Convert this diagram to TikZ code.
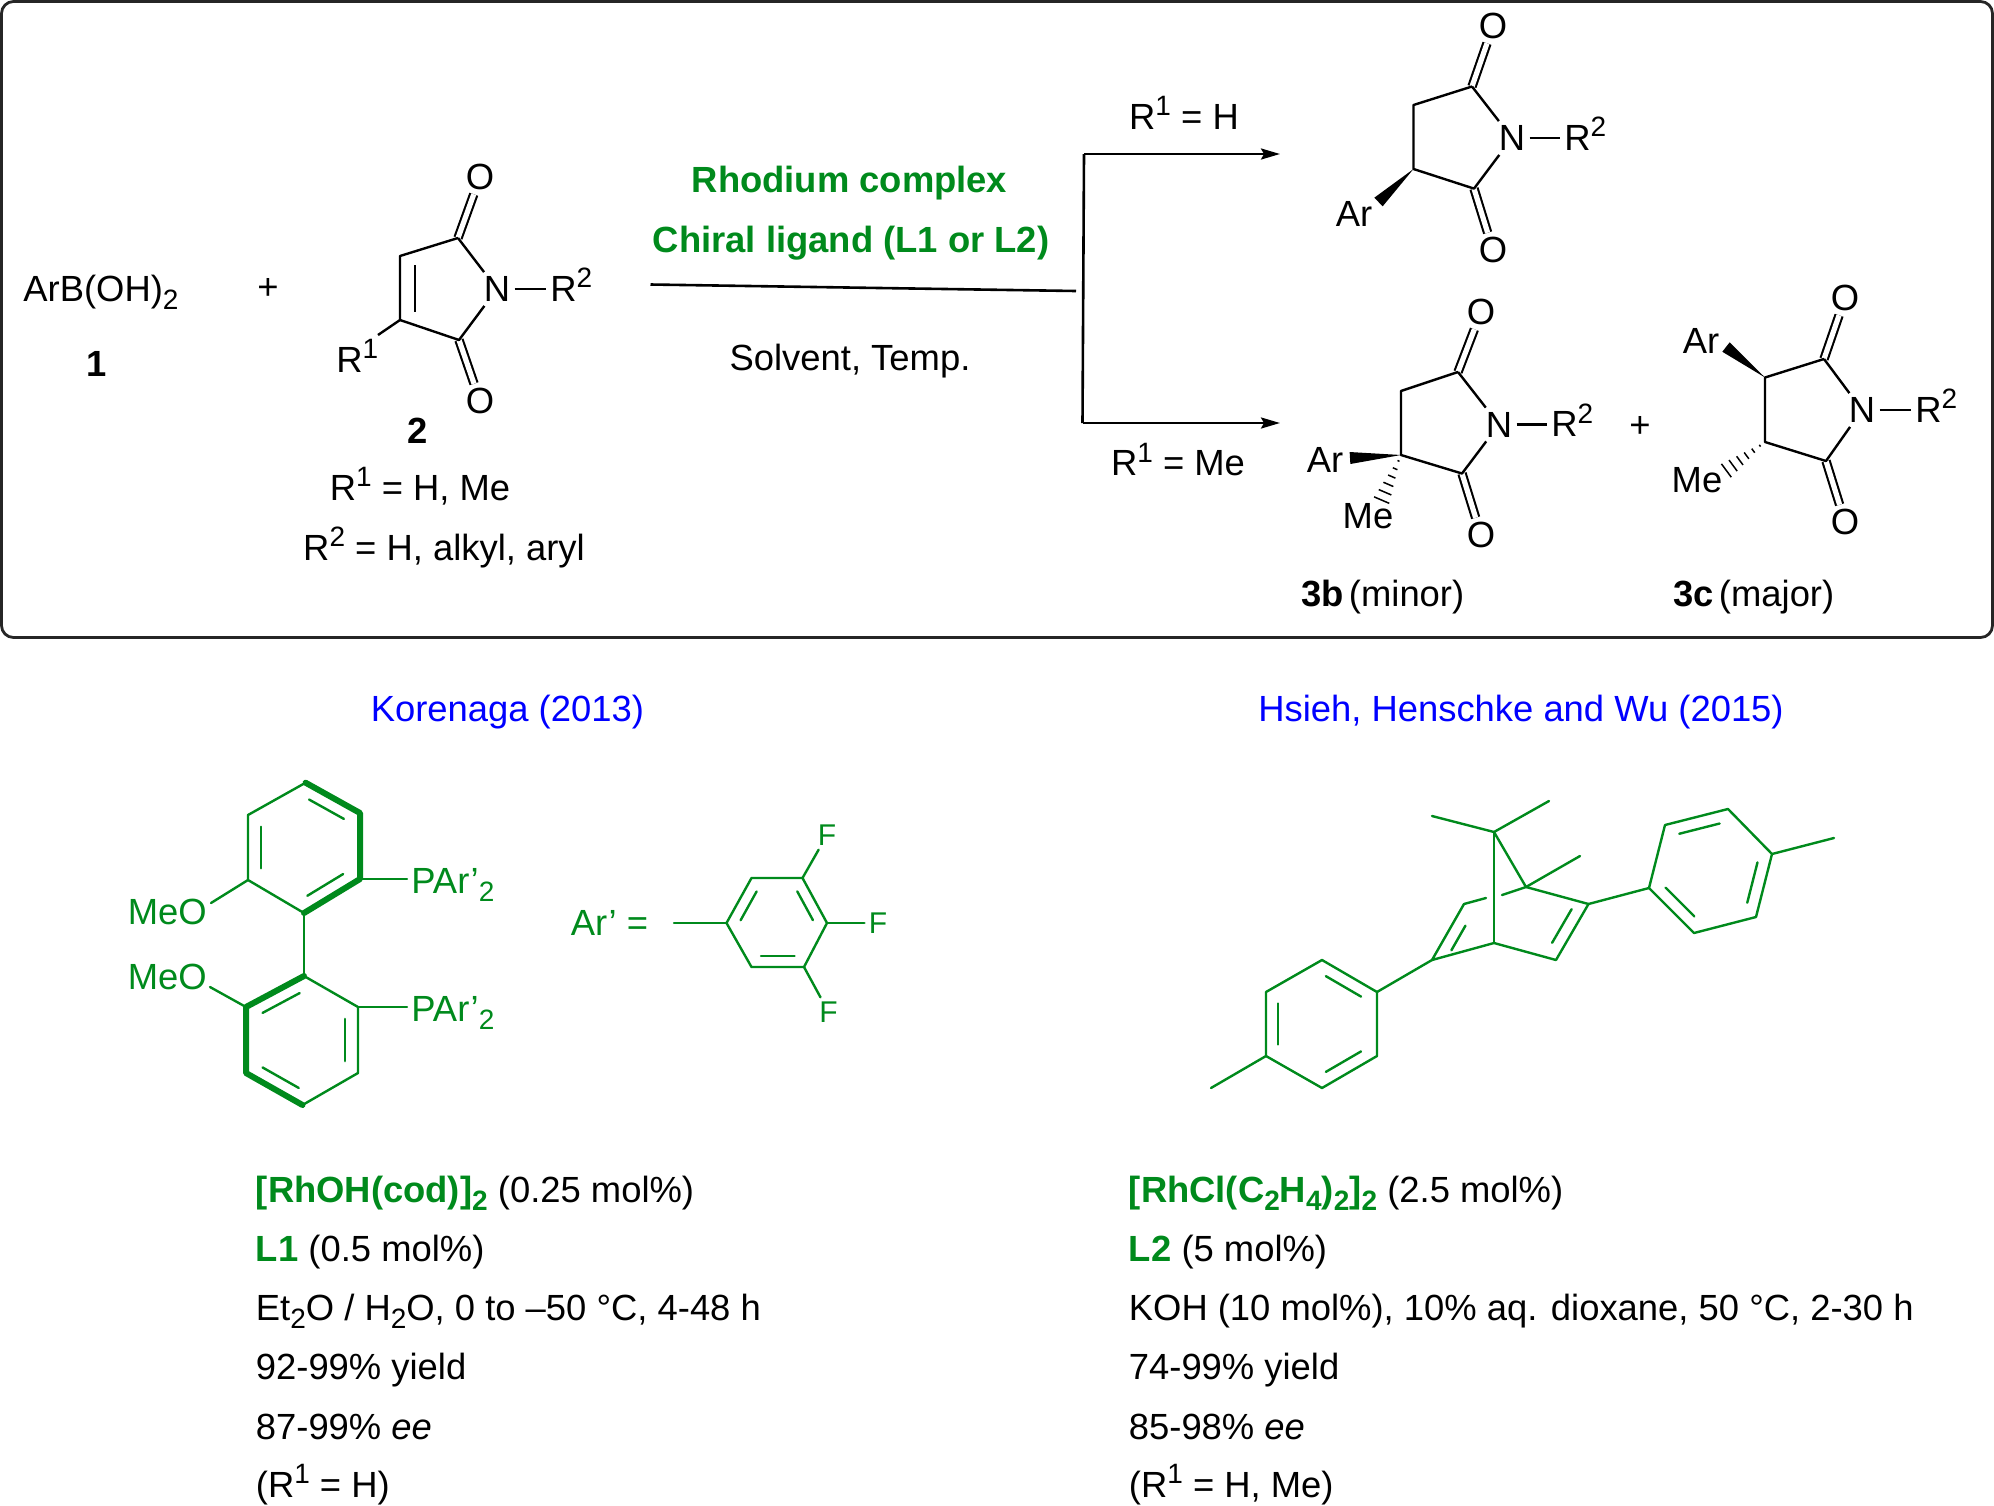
\documentclass[tikz,border=0pt]{standalone}
\usepackage{fontspec}
\setmainfont{Liberation Sans}
\usetikzlibrary{arrows.meta, calc}
\definecolor{ligand}{HTML}{008A1C}
\definecolor{refblue}{HTML}{0000FF}

\newcommand{\lsub}[1]{\raisebox{-.22em}{\fontsize{14}{14}\selectfont #1}}
\newcommand{\lsup}[1]{\raisebox{.37em}{\fontsize{14}{14}\selectfont #1}}
\newcommand{\inbond}[4][.18]{\draw[gbond] ($(#2)!#1!(#3)!#4!90:(#3)$) -- ($(#3)!#1!(#2)!#4!-90:(#2)$);}
\newcommand{\wedgebond}[2]{\fill (#1) -- ($(#2)!3pt!90:(#1)$) -- ($(#2)!3pt!-90:(#1)$) -- cycle;}
\newcommand{\hashbond}[2]{\foreach \f in {.12,.28,.44,.6,.76,.92}{
		\pgfmathsetmacro\w{\f*4.5}
		\draw[line width=.75pt] ($(#1)!\f!(#2)!\w pt!90:(#2)$) -- ($(#1)!\f!(#2)!\w pt!-90:(#2)$);
	}}

\begin{document}
\begin{tikzpicture}[x=0.5pt,y=-0.5pt,font=\fontsize{18.2}{22}\selectfont]
    \tikzstyle{bond}=[draw=black, line width=1.2pt, line join=round]
    \tikzstyle{gbond}=[draw=ligand, line width=1.2pt, line join=round, line cap=round]
    \tikzstyle{thickbond}=[draw=ligand, line width=3pt, line join=round, line cap=round]
    \tikzstyle{dbond}=[draw=black, double, double distance=2.6pt, line width=1.05pt]
    \tikzstyle{rxn}=[draw=black, line width=1.3pt]
    \tikzstyle{atom}=[inner sep=2pt]
    \tikzstyle{gatom}=[atom, text=ligand]
    \tikzstyle{line}=[inner sep=0pt, anchor=base west]
    \tikzstyle{mid}=[inner sep=0pt, anchor=base]
    \tikzstyle{gline}=[line, text=ligand]
    \tikzstyle{head}=[text=refblue]
    \tikzstyle{reagent}=[text=ligand, font=\fontsize{18.2}{22}\selectfont\bfseries]

    \useasboundingbox (0,0) rectangle (1994,1506);
    \draw[draw=black!85, line width=1.4pt, rounded corners=6pt] (1.5,1.5) rectangle (1992.5,637.5);

%    reagents
    \node[line] (acid) at (23,301) {ArB(OH)\lsub{2}};
    \node[atom] (lab1) at (97,364) {\textbf{1}};
    \node[atom] (plusa) at (268,288.5) {+};

%    maleimide 2
    \coordinate (Ma) at (458,238);
    \coordinate (Mb) at (400,256);
    \coordinate (Mc) at (400,320);
    \coordinate (Md) at (459,340);
    \coordinate (Mi) at (415,265);
    \coordinate (Mj) at (415,312);
    \coordinate (Me) at (378,335);
    \node[atom] (MN) at (497,289) {N};
    \node[atom] (MOa) at (480,177) {O};
    \node[atom] (MOb) at (480,401) {O};
    \node[line, inner sep=2pt] (MRa) at (546,301) {R\lsup{2}};
    \node[line] (MRb) at (336,372) {R\lsup{1}};
    \draw[dbond] (Ma) -- (MOa);
    \draw[dbond] (Md) -- (MOb);
    \draw[bond] (Ma) -- (Mb) -- (Mc) -- (Md) -- (MN) -- (Ma);
    \draw[bond] (Mi) -- (Mj);
    \draw[bond] (Mc) -- (Me);
    \draw[bond] (MN.east) -- (MN.east -| MRa.west);
    \node[atom] (lab2) at (418,431) {\textbf{2}};
    \node[mid] (subsa) at (420,500) {R\lsup{1} = H, Me};
    \node[mid] (subsb) at (444,560) {R\lsup{2} = H, alkyl, aryl};

%    reaction arrows
    \node[reagent] (rh) at (849.5,183.5) {Rhodium complex};
    \node[reagent] (chi) at (851,243) {Chiral ligand (L1 or L2)};
    \node[atom] (solv) at (850,361) {Solvent, Temp.};
    \coordinate (rs) at (650.5,284.5);
    \coordinate (re) at (1076,291);
    \coordinate (vt) at (1084,154);
    \coordinate (vb) at (1082.5,423);
    \coordinate (at) at (1280,154);
    \coordinate (ab) at (1280,423);
    \draw[rxn] (rs) -- (re);
    \draw[rxn] (vt) -- (vb);
    \draw[rxn,-{Stealth[length=9.5pt,width=5.5pt,inset=1.5pt]}] (vt) -- (at);
    \draw[rxn,-{Stealth[length=9.5pt,width=5.5pt,inset=1.5pt]}] (vb) -- (ab);
    \node[mid] (condh) at (1184,129) {R\lsup{1} = H};
    \node[mid] (condme) at (1178,475.5) {R\lsup{1} = Me};

%    product 3a
    \coordinate (Pa) at (1472,86.5);
    \coordinate (Pb) at (1413.5,105);
    \coordinate (Pc) at (1413.5,169);
    \coordinate (Pd) at (1474,188.6);
    \coordinate (Pw) at (1378.5,202);
    \node[atom] (PN) at (1512,138) {N};
    \node[atom] (POa) at (1493,26) {O};
    \node[atom] (POb) at (1493,250) {O};
    \node[line, inner sep=2pt] (PR) at (1560,150) {R\lsup{2}};
    \node[atom] (PAr) at (1354,213.5) {Ar};
    \draw[dbond] (Pa) -- (POa);
    \draw[dbond] (Pd) -- (POb);
    \draw[bond] (Pa) -- (Pb) -- (Pc) -- (Pd) -- (PN) -- (Pa);
    \draw[bond] (PN.east) -- (PN.east -| PR.west);
    \wedgebond{Pc}{Pw}

%    product 3b
    \coordinate (Qa) at (1458,372);
    \coordinate (Qb) at (1401,391);
    \coordinate (Qc) at (1401,455);
    \coordinate (Qd) at (1462,473.5);
    \coordinate (Qw) at (1350,458);
    \coordinate (Qh) at (1380,504);
    \node[atom] (QN) at (1499,424.5) {N};
    \node[atom] (QOa) at (1481,312) {O};
    \node[atom] (QOb) at (1481,535) {O};
    \node[line, inner sep=2pt] (QR) at (1547,436.5) {R\lsup{2}};
    \node[atom] (QAr) at (1325,460) {Ar};
    \node[atom] (QMe) at (1368,516) {Me};
    \draw[dbond] (Qa) -- (QOa);
    \draw[dbond] (Qd) -- (QOb);
    \draw[bond] (Qa) -- (Qb) -- (Qc) -- (Qd) -- (QN) -- (Qa);
    \draw[bond] (QN.east) -- (QN.east -| QR.west);
    \wedgebond{Qc}{Qw}
    \hashbond{Qc}{Qh}
    \node[atom] (plusb) at (1640,426.5) {+};

%    product 3c
    \coordinate (Sa) at (1824,359);
    \coordinate (Sb) at (1765,377.5);
    \coordinate (Sc) at (1765,442);
    \coordinate (Sd) at (1826,461);
    \coordinate (Sw) at (1726,347);
    \coordinate (Sh) at (1723,473);
    \node[atom] (SN) at (1862,410) {N};
    \node[atom] (SOa) at (1845,298) {O};
    \node[atom] (SOb) at (1845,522) {O};
    \node[line, inner sep=2pt] (SR) at (1911,422) {R\lsup{2}};
    \node[atom] (SAr) at (1701,341) {Ar};
    \node[atom] (SMe) at (1697,480) {Me};
    \draw[dbond] (Sa) -- (SOa);
    \draw[dbond] (Sd) -- (SOb);
    \draw[bond] (Sa) -- (Sb) -- (Sc) -- (Sd) -- (SN) -- (Sa);
    \draw[bond] (SN.east) -- (SN.east -| SR.west);
    \wedgebond{Sb}{Sw}
    \hashbond{Sc}{Sh}
    \node[line] (lab3b) at (1301,606) {\textbf{3b}\hspace{.14em}(minor)};
    \node[line] (lab3c) at (1673,606) {\textbf{3c}\hspace{.14em}(major)};

    \node[head] (headl) at (507.4,712) {Korenaga (2013)};
    \node[head] (headr) at (1521,712) {Hsieh, Henschke and Wu (2015)};

%    ligand L1
    \foreach \n/\x/\y in {a/305.6/782.7,b/360/813,c/360/879,d/304/913,e/248/880,f/248/815}
        \coordinate (U\n) at (\x,\y);
    \foreach \n/\x/\y in {a/304/976,b/358/1007,c/358/1073,d/302.5/1105,e/246/1073,f/246/1007}
        \coordinate (L\n) at (\x,\y);
    \draw[gbond] (Ua) -- (Uf) -- (Ue) -- (Ud);
    \draw[thickbond] (Ua) -- (Ub) -- (Uc) -- (Ud);
    \inbond{Ub}{Ua}{6.5pt}
    \inbond{Uf}{Ue}{6.5pt}
    \inbond{Ud}{Uc}{6.5pt}
    \draw[gbond] (Ud) -- (La);
    \draw[gbond] (La) -- (Lb) -- (Lc) -- (Ld);
    \draw[thickbond] (La) -- (Lf) -- (Le) -- (Ld);
    \inbond{La}{Lf}{6.5pt}
    \inbond{Lb}{Lc}{-6.5pt}
    \inbond{Le}{Ld}{6.5pt}
    \node[gatom, anchor=base west] (MeOa) at (123.5,924) {MeO};
    \node[gatom, anchor=base west] (MeOb) at (123.5,989) {MeO};
    \coordinate (oa) at (211,903);
    \coordinate (ob) at (210,987);
    \draw[gbond] (Ue) -- (oa);
    \draw[gbond] (Lf) -- (ob);
    \node[gatom, anchor=base west] (PArA) at (407,893.5) {PAr’\lsub{2}};
    \node[gatom, anchor=base west] (PArB) at (407,1021.5) {PAr’\lsub{2}};
    \draw[gbond] (Uc) -- (Uc -| PArA.west);
    \draw[gbond] (Lb) -- (Lb -| PArB.west);

%    Ar' group
    \node[gatom] (arp) at (609.5,923) {Ar’ =};
    \foreach \n/\x/\y in {a/726.5/923,b/751.5/878,c/802.5/878,d/827/923,e/804/967,f/751.5/967}
        \coordinate (A\n) at (\x,\y);
    \coordinate (At) at (674,923);
    \draw[gbond] (Aa) -- (Ab) -- (Ac) -- (Ad) -- (Ae) -- (Af) -- cycle;
    \draw[gbond] (At) -- (Aa);
    \inbond{Ab}{Aa}{5.5pt}
    \inbond{Ad}{Ac}{5.5pt}
    \inbond{Af}{Ae}{5.5pt}
    \node[gatom, font=\fontsize{15}{18}\selectfont] (Fa) at (827,835) {F};
    \node[gatom, font=\fontsize{15}{18}\selectfont] (Fb) at (878,923) {F};
    \node[gatom, font=\fontsize{15}{18}\selectfont] (Fc) at (828.5,1012) {F};
    \draw[gbond] (Ac) -- (Fa);
    \draw[gbond] (Ad) -- (Fb);
    \draw[gbond] (Ae) -- (Fc);

%    ligand L2
    \foreach \n/\x/\y in {s/1494/832,t/1432/816,u/1549/801,v/1526/887,w/1580/856,x/1494/943,y/1464/904,z/1432/960,p/1556/960,q/1588.5/904,g/1502/895,h/1486/898}
        \coordinate (N\n) at (\x,\y);
    \draw[gbond] (Ns) -- (Nt);
    \draw[gbond] (Ns) -- (Nu);
    \draw[gbond] (Ns) -- (Nv);
    \draw[gbond] (Nv) -- (Nw);
    \draw[gbond] (Ns) -- (Nx);
    \draw[gbond] (Nv) -- (Ng);
    \draw[gbond] (Nh) -- (Ny) -- (Nz) -- (Nx) -- (Np) -- (Nq) -- (Nv);
    \inbond[.28]{Ny}{Nz}{6pt}
    \inbond[.2]{Np}{Nq}{6pt}
    \foreach \n/\x/\y in {a/1649/888,b/1665/825,c/1728/809,d/1772/854,e/1756/917,f/1694/933,m/1834/838}
        \coordinate (R\n) at (\x,\y);
    \draw[gbond] (Nq) -- (Ra);
    \draw[gbond] (Ra) -- (Rb) -- (Rc) -- (Rd) -- (Re) -- (Rf) -- cycle;
    \draw[gbond] (Rd) -- (Rm);
    \inbond{Rc}{Rb}{6pt}
    \inbond{Re}{Rd}{6pt}
    \inbond{Ra}{Rf}{6pt}
    \foreach \n/\x/\y in {a/1377/992,b/1322/960,c/1266/992,d/1266/1056,e/1322/1088,f/1377/1056,m/1211/1088}
        \coordinate (T\n) at (\x,\y);
    \draw[gbond] (Nz) -- (Ta);
    \draw[gbond] (Ta) -- (Tb) -- (Tc) -- (Td) -- (Te) -- (Tf) -- cycle;
    \draw[gbond] (Td) -- (Tm);
    \inbond{Ta}{Tb}{6pt}
    \inbond{Tc}{Td}{6pt}
    \inbond{Te}{Tf}{6pt}

%    conditions
    \foreach \n/\y/\txt in {
        2/1261/{\textcolor{ligand}{\textbf{L1}} (0.5 mol\%)},
        3/1320/{Et\lsub{2}O / H\lsub{2}O, 0 to –50 °C, 4-48 h},
        4/1379/{92-99\% yield},
        5/1439/{87-99\% \textit{ee}},
        6/1497/{(R\lsup{1} = H)}}
        \node[line] (cl\n) at (255.5,\y) {\txt};
    \foreach \n/\y/\txt in {
        2/1261/{\textcolor{ligand}{\textbf{L2}} (5 mol\%)},
        3/1320/{KOH (10 mol\%), 10\% aq. dioxane, 50 °C, 2-30 h},
        4/1379/{74-99\% yield},
        5/1439/{85-98\% \textit{ee}},
        6/1497/{(R\lsup{1} = H, Me)}}
        \node[line] (cr\n) at (1128.5,\y) {\txt};
    \node[line] (cl1) at (255.5,1202) {\textcolor{ligand}{\textbf{[RhOH(cod)]\lsub{2}}} (0.25 mol\%)};
    \node[line] (cr1) at (1128.5,1202) {\textcolor{ligand}{\textbf{[RhCl(C\lsub{2}H\lsub{4})\lsub{2}]\lsub{2}}} (2.5 mol\%)};
\end{tikzpicture}
\end{document}
